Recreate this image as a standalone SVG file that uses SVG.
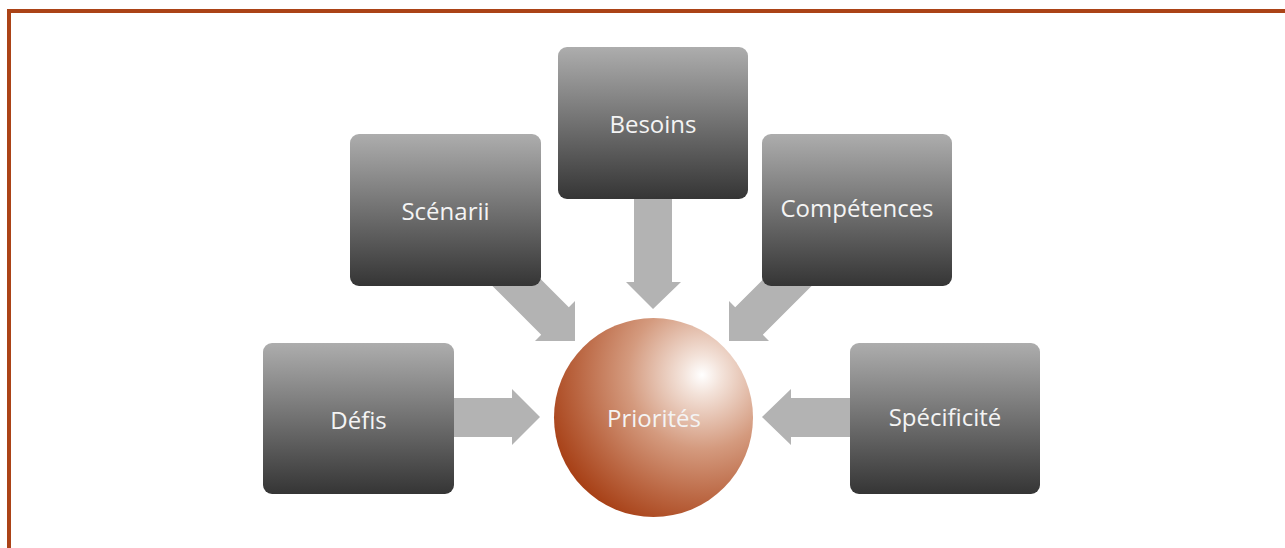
<svg xmlns="http://www.w3.org/2000/svg" width="1285" height="548" viewBox="0 0 1285 548">
<defs>
<linearGradient id="boxg" x1="0" y1="0" x2="0" y2="1">
<stop offset="0" stop-color="#ADADAD"/>
<stop offset="1" stop-color="#353535"/>
</linearGradient>
<radialGradient id="sph" gradientUnits="userSpaceOnUse" cx="702" cy="375" r="165" fx="702" fy="375">
<stop offset="0" stop-color="#FFFFFF"/>
<stop offset="0.12" stop-color="#F3E2D9"/>
<stop offset="0.45" stop-color="#D49A7E"/>
<stop offset="0.75" stop-color="#BB6743"/>
<stop offset="1" stop-color="#A63E14"/>
</radialGradient>
<style>
.box{fill:url(#boxg);}
.lbl{font-family:"Open Sans","Noto Sans","Liberation Sans",sans-serif;font-size:24px;fill:#F4F4F4;text-anchor:middle;}
.arr{fill:#B3B3B3;}
</style>
</defs>
<rect width="1285" height="548" fill="#FFFFFF"/>
<path d="M9,548 V11 H1285" fill="none" stroke="#AB4317" stroke-width="4"/>
<g id="connectors">
<polygon class="arr" points="634,190 672,190 672,282 681,282 653,309 626,282 634,282"/>
<polygon class="arr" points="440,398 512,398 512,389 540,417 512,445 512,437 440,437"/>
<polygon class="arr" points="866,398 791,398 791,389 762,417 791,445 791,437 866,437"/>
<polygon class="arr" points="456.2,249.8 483.8,222.2 568.8,307.2 575,301 575,341 535,341 541.2,334.8"/>
<polygon class="arr" points="822.2,220.2 849.8,247.8 762.8,334.8 769,341 729,341 729,301 735.2,307.2"/>
</g>
<g id="node-besoins"><rect class="box" x="558" y="47" width="190" height="152" rx="9"/><text class="lbl" x="653" y="133">Besoins</text></g>
<g id="node-scenarii"><rect class="box" x="350" y="134" width="191" height="152" rx="9"/><text class="lbl" x="445.5" y="220">Scénarii</text></g>
<g id="node-competences"><rect class="box" x="762" y="134" width="190" height="152" rx="9"/><text class="lbl" x="857" y="217">Compétences</text></g>
<g id="node-defis"><rect class="box" x="263" y="343" width="191" height="151" rx="9"/><text class="lbl" x="358.5" y="429">Défis</text></g>
<g id="node-specificite"><rect class="box" x="850" y="343" width="190" height="151" rx="9"/><text class="lbl" x="945" y="426">Spécificité</text></g>
<g id="node-priorites"><circle cx="653.5" cy="417.5" r="99.5" fill="url(#sph)"/><text class="lbl" x="654" y="427">Priorités</text></g>
</svg>
